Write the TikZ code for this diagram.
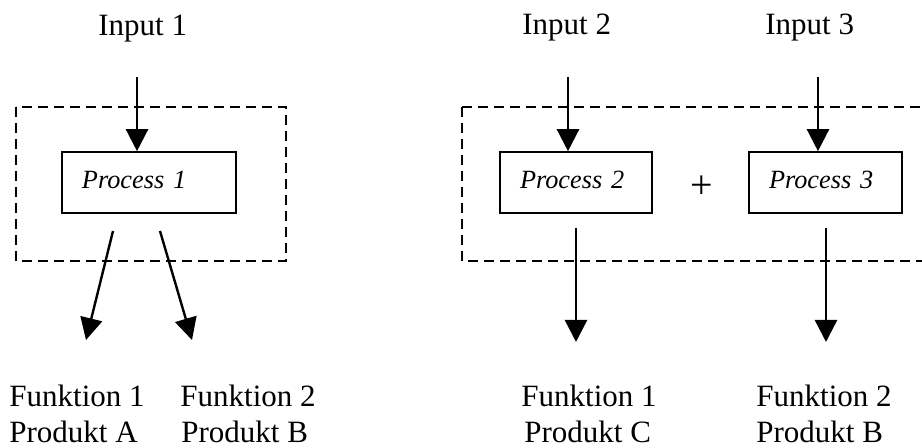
\documentclass[tikz,border=0pt]{standalone}
\usepackage{fontspec}
\setmainfont{Liberation Serif}
\usetikzlibrary{arrows.meta}
\begin{document}
\begin{tikzpicture}[x=0.5pt,y=-0.5pt,
  lbl/.style={inner sep=0pt, anchor=base west, font=\fontsize{15.5pt}{18pt}\selectfont},
  procbox/.style={draw, line width=0.8pt, minimum height=30.5pt, inner xsep=10pt, inner ysep=0pt,
    align=left, text depth=3pt, font=\itshape\fontsize{13.15pt}{15pt}\selectfont},
  arr/.style={line width=1.2pt, -{Triangle[length=11pt,width=11pt]}},
  dashbox/.style={line width=1pt, dash pattern=on 5pt off 3pt}]
\clip (0,0) rectangle (922,448);

% group frames
\draw[dashbox] (16,107) rectangle (286,261);
\draw[dashbox] (462,107) rectangle (945,261);

% process boxes
\node[procbox, text width=67pt] (p1) at (149,182.5) {Process 1};
\node[procbox, text width=56pt] (p2) at (576,182.5) {Process 2};
\node[procbox, text width=56.5pt] (p3) at (825.5,182.5) {Process 3};
\node[inner sep=0pt, anchor=center, font=\fontsize{20pt}{22pt}\selectfont] (plus) at (702,187) {+};

% inputs
\node[lbl] (t1) at (98,36) {Input 1};
\node[lbl] (t2) at (522,35) {Input 2};
\node[lbl] (t3) at (765,35) {Input 3};
\coordinate (in1) at (137,77);
\coordinate (in2) at (568,77);
\coordinate (in3) at (818,77);
\draw[arr] (in1) -- (in1 |- p1.north);
\draw[arr] (in2) -- (in2 |- p2.north);
\draw[arr] (in3) -- (in3 |- p3.north);

% outputs
\coordinate (oa1) at (113,231); \coordinate (ob1) at (86,340);
\coordinate (oa2) at (160,231); \coordinate (ob2) at (192,340);
\coordinate (oa3) at (576,228); \coordinate (ob3) at (576,342);
\coordinate (oa4) at (826,228); \coordinate (ob4) at (826,342);
\draw[arr] (oa1) -- (ob1);
\draw[arr] (oa2) -- (ob2);
\draw[arr] (oa3) -- (ob3);
\draw[arr] (oa4) -- (ob4);

% result labels
\node[lbl] (f1) at (9,407) {Funktion 1};
\node[lbl] (r1) at (9,443) {Produkt A};
\node[lbl] (f2) at (180,407) {Funktion 2};
\node[lbl] (r2) at (181,443) {Produkt B};
\node[lbl] (f3) at (521,407) {Funktion 1};
\node[lbl] (r3) at (524,443) {Produkt C};
\node[lbl] (f4) at (756,407) {Funktion 2};
\node[lbl] (r4) at (756,443) {Produkt B};
\end{tikzpicture}
\end{document}
